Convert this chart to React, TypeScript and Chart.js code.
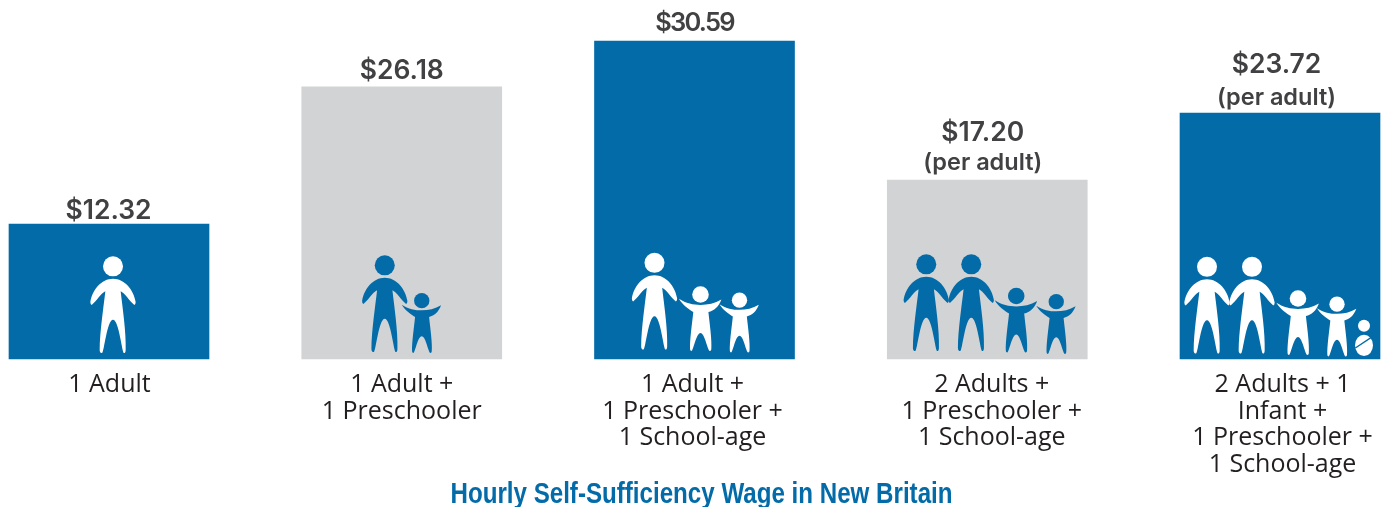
import React, { useEffect, useRef } from "react";
import { Chart, registerables } from "chart.js";

Chart.register(...registerables);

// Category labels, wage labels and bar heights.
// The first bar is drawn taller in the source than its printed $12.32 implies.
const categories = [
  ["1 Adult"],
  ["1 Adult +", "1 Preschooler"],
  ["1 Adult +", "1 Preschooler +", "1 School-age"],
  ["2 Adults +", "1 Preschooler +", "1 School-age"],
  ["2 Adults + 1", "Infant +", "1 Preschooler +", "1 School-age"],
];
const barHeights = [12.98, 26.18, 30.59, 17.2, 23.66];
const wageLabels = ["$12.32", "$26.18", "$30.59", "$17.20", "$23.72"];
const wageNotes = ["", "", "", "(per adult)", "(per adult)"];
const titleText = "Hourly Self-Sufficiency Wage in New Britain";

const BLUE = "#026ba8";
const GREY = "#d1d3d4";
const TEXT = "#231f20";
const VALUE_TEXT = "#414042";
const barColors = [BLUE, GREY, BLUE, GREY, BLUE];

type Kind = "adult" | "child" | "infant";
type Figure = { kind: Kind; dx: number; lift: number; scale: number };

// Pictogram placement, relative to each bar's centre and base.
const figureLayout: Figure[][] = [
  [{ kind: "adult", dx: 4, lift: 6, scale: 1 }],
  [
    { kind: "adult", dx: -17, lift: 7, scale: 1 },
    { kind: "child", dx: 20, lift: 6, scale: 1 },
  ],
  [
    { kind: "adult", dx: -40, lift: 9.5, scale: 1 },
    { kind: "child", dx: 6, lift: 8, scale: 1.08 },
    { kind: "child", dx: 45, lift: 6.5, scale: 1 },
  ],
  [
    { kind: "adult", dx: -61, lift: 8, scale: 1 },
    { kind: "adult", dx: -16, lift: 8, scale: 1 },
    { kind: "child", dx: 29, lift: 6.5, scale: 1.08 },
    { kind: "child", dx: 69, lift: 5, scale: 1 },
  ],
  [
    { kind: "adult", dx: -73, lift: 5.5, scale: 1 },
    { kind: "adult", dx: -28, lift: 5.5, scale: 1 },
    { kind: "child", dx: 18, lift: 4, scale: 1.08 },
    { kind: "child", dx: 57, lift: 2.5, scale: 1 },
    { kind: "infant", dx: 84, lift: 3, scale: 1 },
  ],
];

const adultPath =
  "M0 -223 C35 -223 62 -190 68 -153 Q68 -146 64 -144 C50 -155 35 -180 23 -185 " +
  "C28 -140 40 -60 38 -10 Q38 0 33 0 C27 0 18 -100 0 -100 C-18 -100 -27 0 -33 0 " +
  "Q-40 0 -40 -10 C-40 -60 -28 -140 -23 -185 C-35 -180 -50 -155 -64 -144 " +
  "Q-68 -146 -68 -153 C-62 -190 -35 -223 0 -223 Z";
const childPath =
  "M-60 -145 C-40 -132 -20 -128 0 -128 C20 -128 40 -132 58 -143 C50 -122 38 -112 22 -108 " +
  "C26 -70 32 -30 30 -5 Q30 0 26 0 C20 0 12 -50 0 -50 C-12 -50 -20 0 -25 0 " +
  "Q-29 0 -29 -5 C-30 -30 -24 -70 -20 -108 C-32 -116 -50 -128 -60 -145 Z";

function drawFigure(ctx: CanvasRenderingContext2D, f: Figure, x: number, base: number, ink: string, ground: string) {
  ctx.save();
  ctx.translate(x + f.dx, base - f.lift);
  ctx.scale(f.scale / 3, f.scale / 3);
  ctx.fillStyle = ink;
  const disc = (cy: number, r: number) => {
    ctx.beginPath();
    ctx.arc(0, cy, r, 0, Math.PI * 2);
    ctx.fill();
  };
  if (f.kind === "adult") {
    disc(-260, 30);
    ctx.fill(new Path2D(adultPath));
  } else if (f.kind === "child") {
    disc(-157, 23);
    ctx.fill(new Path2D(childPath));
  } else {
    disc(-91, 18);
    ctx.beginPath();
    ctx.ellipse(0, -32, 27, 32, 0, 0, Math.PI * 2);
    ctx.fill();
    ctx.strokeStyle = ground;
    ctx.lineWidth = 4;
    ctx.beginPath();
    ctx.moveTo(-26, -24);
    ctx.lineTo(22, -56);
    ctx.stroke();
  }
  ctx.restore();
}

// Text placement above and below each bar.
const wageShift = [-0.5, 0, 0, -4.5, -3.5];
const wageGap = [5, 8, 10, 9, 10];
const noteGap = [0, 0, 0, 6.5, 3];
const wageFont = ["600 26.5px Inter", "600 26.5px Inter", "600 25.5px Inter", "600 26.5px Inter", "600 26.5px Inter"];
const wageSpacing = ["0px", "0px", "-1.8px", "0px", "0px"];
const NOTE_FONT = "600 23.5px Inter";
const TITLE_WIDTH = 502;
const TITLE_FONT = "'Liberation Sans'";
const tickShift = [0.5, 0, -2, 4.5, 2.5];

const decorations = {
  id: "decorations",
  afterLayout(chart: any) {
    // The title sits slightly right of the canvas middle and is condensed horizontally.
    const t = chart.titleBlock;
    t.left += 7;
    t.right += 7;
    t.top += 5;
    t.bottom += 5;
    const draw = t.draw.bind(t);
    t.draw = () => {
      const ctx = chart.ctx;
      const cx = (t.left + t.right) / 2;
      ctx.save();
      ctx.font = `bold 30px ${TITLE_FONT}`;
      const sx = TITLE_WIDTH / ctx.measureText(titleText).width;
      ctx.restore();
      ctx.save();
      ctx.translate(cx, 0);
      ctx.scale(sx, 1);
      ctx.translate(-cx, 0);
      draw();
      ctx.restore();
    };
    // Let the axis labels run over the full height below the bars.
    chart.scales.x.bottom = chart.height;
  },
  beforeDraw(chart: any) {
    chart.scales.x.getLabelItems().forEach((item: any, i: number) => {
      item.options.translation[0] += tickShift[i];
    });
  },
  afterDatasetsDraw(chart: any) {
    const { ctx } = chart;
    const bars = chart.getDatasetMeta(0).data;
    const base = chart.scales.y.getPixelForValue(0);
    bars.forEach((bar: any, i: number) => {
      const ground = barColors[i];
      const ink = ground === BLUE ? "#ffffff" : BLUE;
      figureLayout[i].forEach((f) => drawFigure(ctx, f, bar.x, base, ink, ground));
      ctx.save();
      ctx.textAlign = "center";
      ctx.textBaseline = "alphabetic";
      ctx.fillStyle = VALUE_TEXT;
      const x = bar.x + wageShift[i];
      let y = bar.y - wageGap[i];
      if (wageNotes[i]) {
        ctx.font = NOTE_FONT;
        ctx.fillText(wageNotes[i], x, y - noteGap[i] + 5);
        y -= 30;
      }
      ctx.font = wageFont[i];
      (ctx as any).letterSpacing = wageSpacing[i];
      ctx.fillText(wageLabels[i], x, y);
      ctx.restore();
    });
  },
};

export default function App() {
  const ref = useRef<HTMLCanvasElement>(null);
  useEffect(() => {
    const chart = new Chart(ref.current!, {
      type: "bar",
      data: {
        labels: categories,
        datasets: [
          {
            data: barHeights,
            backgroundColor: barColors,
            barThickness: 200,
            borderWidth: 0,
            clip: false,
          } as any,
        ],
      },
      plugins: [decorations],
      options: {
        responsive: false,
        animation: false,
        layout: { padding: { left: 109, right: 106, top: 0, bottom: 0 } },
        plugins: {
          legend: { display: false },
          tooltip: { enabled: false },
          title: {
            display: true,
            text: titleText,
            position: "bottom",
            color: BLUE,
            padding: 0,
            font: { family: TITLE_FONT, size: 30, weight: "bold", lineHeight: "35px" },
          },
        },
        scales: {
          x: {
            offset: false,
            grid: { display: false, drawTicks: false },
            border: { display: false },
            afterFit(scale: any) {
              scale.height = 113;
            },
            ticks: {
              padding: 13,
              color: TEXT,
              autoSkip: false,
              maxRotation: 0,
              font: { family: "'Open Sans'", size: 25, lineHeight: "26.5px" },
            },
          },
          y: { display: false, min: 0, max: 34.53 },
        },
      } as any,
    });
    return () => chart.destroy();
  }, []);
  return (
    <canvas
      ref={ref}
      width={1386}
      height={507}
      style={{ position: "fixed", left: 0, top: 0, display: "block" }}
    />
  );
}
